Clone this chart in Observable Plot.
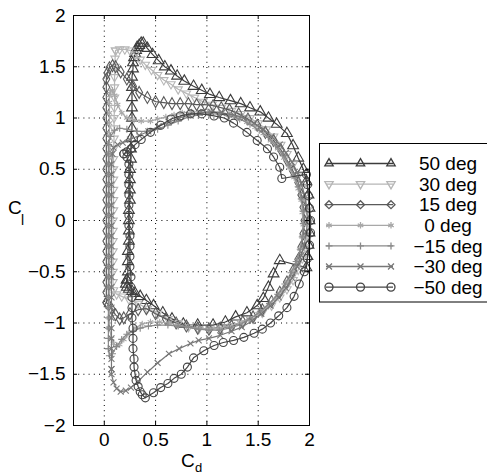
<!DOCTYPE html>
<html><head><meta charset="utf-8">
<script src="https://cdn.jsdelivr.net/npm/d3@7"></script>
<script src="https://cdn.jsdelivr.net/npm/@observablehq/plot@0.6"></script>
<style>
body{margin:0;background:#fff;}
#wrap{position:relative;width:487px;height:475px;overflow:hidden;background:#fff;font-family:"Liberation Sans",Arial,sans-serif;}
#wrap svg{position:absolute;left:0;top:0;}
</style></head><body><div id="wrap"></div>
<script>
const xTicks = [0, 0.5, 1, 1.5, 2];
const yTicks = [-2, -1.5, -1, -0.5, 0, 0.5, 1, 1.5, 2];
const seriesLabels = ["50 deg", "30 deg", "15 deg", "0 deg", "\u221215 deg", "\u221230 deg", "\u221250 deg"];

// [Cd, Cl] points
const s50 = [[0.22,-0.58],[0.23,-0.5],[0.23,-0.4],[0.23,-0.3],[0.24,-0.2],[0.24,-0.1],[0.24,0.0],[0.24,0.1],[0.25,0.2],[0.25,0.3],[0.25,0.4],[0.25,0.5],[0.26,0.6],[0.26,0.7],[0.26,0.8],[0.27,0.9],[0.27,1.0],[0.27,1.1],[0.27,1.2],[0.27,1.3],[0.27,1.4],[0.28,1.48],[0.28,1.54],[0.29,1.59],[0.3,1.63],[0.31,1.66],[0.32,1.69],[0.34,1.71],[0.36,1.73],[0.38,1.73],[0.42,1.68],[0.47,1.62],[0.53,1.56],[0.59,1.5],[0.65,1.46],[0.71,1.41],[0.78,1.36],[0.87,1.31],[0.95,1.27],[1.03,1.23],[1.12,1.2],[1.23,1.17],[1.33,1.14],[1.42,1.1],[1.52,1.06],[1.6,1.0],[1.68,0.94],[1.78,0.85],[1.84,0.73],[1.89,0.61],[1.94,0.5],[1.97,0.38],[1.99,0.25],[2.0,0.12],[2.0,0.0],[2.0,-0.12],[1.99,-0.24],[1.98,-0.35],[1.97,-0.46],[1.71,-0.39],[1.65,-0.52],[1.6,-0.65],[1.55,-0.76],[1.49,-0.83],[1.39,-0.9],[1.28,-0.94],[1.18,-0.99],[1.06,-1.02],[0.91,-1.02],[0.77,-1.01],[0.66,-0.96],[0.57,-0.9],[0.48,-0.83],[0.41,-0.78],[0.35,-0.74],[0.3,-0.71],[0.27,-0.69],[0.24,-0.67],[0.22,-0.65],[0.21,-0.62],[0.22,-0.58]];
const s30 = [[0.11,1.66],[0.15,1.67],[0.2,1.67],[0.25,1.66],[0.3,1.62],[0.35,1.57],[0.4,1.52],[0.46,1.47],[0.52,1.42],[0.58,1.37],[0.65,1.33],[0.72,1.28],[0.8,1.24],[0.88,1.2],[0.96,1.16],[1.05,1.13],[1.14,1.1],[1.24,1.07],[1.33,1.04],[1.42,1.0],[1.5,0.95],[1.58,0.89],[1.65,0.82],[1.72,0.74],[1.78,0.65],[1.84,0.55],[1.89,0.44],[1.93,0.33],[1.96,0.22],[1.98,0.1],[1.99,-0.02],[1.98,-0.14],[1.96,-0.26],[1.93,-0.37],[1.89,-0.48],[1.84,-0.58],[1.78,-0.67],[1.71,-0.75],[1.63,-0.83],[1.54,-0.9],[1.45,-0.96],[1.35,-1.0],[1.25,-1.03],[1.14,-1.05],[1.03,-1.06],[0.92,-1.06],[0.82,-1.04],[0.72,-1.0],[0.62,-0.96],[0.52,-0.91],[0.42,-0.86],[0.33,-0.81],[0.24,-0.77],[0.17,-0.74],[0.12,-0.72],[0.09,-0.68],[0.085,-0.6],[0.085,-0.5],[0.085,-0.4],[0.085,-0.3],[0.085,-0.2],[0.085,-0.1],[0.085,0.0],[0.09,0.1],[0.09,0.2],[0.09,0.3],[0.09,0.4],[0.09,0.5],[0.09,0.6],[0.09,0.7],[0.095,0.8],[0.095,0.9],[0.095,1.0],[0.1,1.1],[0.1,1.2],[0.1,1.3],[0.1,1.4],[0.105,1.5],[0.105,1.58],[0.11,1.66]];
const s15 = [[0.02,-0.8],[0.02,-0.7],[0.02,-0.6],[0.02,-0.5],[0.02,-0.4],[0.02,-0.3],[0.02,-0.2],[0.02,-0.1],[0.02,0.0],[0.02,0.1],[0.02,0.2],[0.02,0.3],[0.02,0.4],[0.02,0.5],[0.02,0.6],[0.02,0.7],[0.02,0.8],[0.02,0.9],[0.02,1.0],[0.02,1.1],[0.02,1.2],[0.02,1.3],[0.02,1.38],[0.03,1.44],[0.05,1.49],[0.08,1.51],[0.11,1.5],[0.16,1.45],[0.22,1.38],[0.28,1.31],[0.34,1.25],[0.42,1.2],[0.5,1.16],[0.58,1.15],[0.66,1.14],[0.74,1.14],[0.82,1.14],[0.9,1.13],[0.98,1.13],[1.06,1.12],[1.14,1.1],[1.22,1.08],[1.31,1.04],[1.4,0.99],[1.49,0.93],[1.57,0.86],[1.65,0.78],[1.72,0.69],[1.78,0.59],[1.84,0.48],[1.89,0.37],[1.92,0.25],[1.94,0.13],[1.95,0.0],[1.94,-0.13],[1.92,-0.26],[1.89,-0.38],[1.84,-0.49],[1.78,-0.6],[1.71,-0.7],[1.63,-0.79],[1.54,-0.87],[1.45,-0.94],[1.35,-0.99],[1.24,-1.03],[1.13,-1.05],[1.02,-1.06],[0.91,-1.05],[0.8,-1.03],[0.7,-1.0],[0.6,-0.96],[0.5,-0.91],[0.41,-0.86],[0.33,-0.87],[0.25,-0.91],[0.19,-0.95],[0.15,-0.96],[0.11,-0.92],[0.07,-0.86],[0.04,-0.82],[0.02,-0.8]];
const s0 = [[0.05,-1.05],[0.05,-0.95],[0.05,-0.85],[0.05,-0.75],[0.05,-0.65],[0.05,-0.55],[0.05,-0.45],[0.05,-0.35],[0.05,-0.25],[0.05,-0.15],[0.05,-0.05],[0.05,0.05],[0.05,0.15],[0.05,0.25],[0.05,0.35],[0.05,0.45],[0.05,0.55],[0.05,0.65],[0.05,0.75],[0.05,0.85],[0.05,0.95],[0.05,1.05],[0.05,1.15],[0.05,1.22],[0.06,1.26],[0.08,1.27],[0.1,1.22],[0.13,1.13],[0.17,1.05],[0.22,1.0],[0.29,0.98],[0.36,0.97],[0.45,0.97],[0.52,0.99],[0.6,1.01],[0.68,1.03],[0.76,1.05],[0.85,1.06],[0.94,1.06],[1.03,1.06],[1.12,1.05],[1.21,1.03],[1.3,1.0],[1.39,0.96],[1.47,0.91],[1.55,0.85],[1.62,0.78],[1.69,0.7],[1.75,0.61],[1.8,0.52],[1.85,0.42],[1.89,0.31],[1.92,0.2],[1.93,0.08],[1.94,-0.04],[1.93,-0.16],[1.91,-0.28],[1.88,-0.39],[1.84,-0.5],[1.79,-0.6],[1.73,-0.69],[1.66,-0.77],[1.58,-0.85],[1.5,-0.91],[1.41,-0.96],[1.32,-1.0],[1.22,-1.03],[1.12,-1.05],[1.02,-1.06],[0.92,-1.05],[0.82,-1.04],[0.72,-1.02],[0.63,-1.0],[0.54,-0.99],[0.45,-0.99],[0.37,-1.01],[0.3,-1.05],[0.24,-1.1],[0.19,-1.16],[0.15,-1.21],[0.12,-1.22],[0.09,-1.2],[0.07,-1.15],[0.05,-1.05]];
const sM15 = [[0.04,-1.25],[0.04,-1.15],[0.04,-1.05],[0.04,-0.95],[0.04,-0.85],[0.04,-0.75],[0.04,-0.65],[0.04,-0.55],[0.04,-0.45],[0.04,-0.35],[0.04,-0.25],[0.04,-0.15],[0.04,-0.05],[0.04,0.05],[0.04,0.15],[0.04,0.25],[0.04,0.35],[0.04,0.45],[0.04,0.55],[0.04,0.65],[0.04,0.74],[0.06,0.82],[0.1,0.88],[0.15,0.9],[0.22,0.89],[0.32,0.87],[0.42,0.87],[0.52,0.89],[0.62,0.93],[0.72,0.97],[0.82,1.01],[0.92,1.03],[1.02,1.04],[1.12,1.04],[1.22,1.02],[1.32,0.99],[1.42,0.94],[1.51,0.88],[1.6,0.81],[1.67,0.73],[1.74,0.64],[1.8,0.54],[1.85,0.44],[1.89,0.33],[1.92,0.21],[1.94,0.09],[1.94,-0.03],[1.93,-0.16],[1.91,-0.28],[1.87,-0.4],[1.82,-0.51],[1.76,-0.62],[1.69,-0.72],[1.61,-0.81],[1.52,-0.89],[1.42,-0.96],[1.32,-1.02],[1.22,-1.05],[1.12,-1.07],[1.02,-1.07],[0.92,-1.06],[0.82,-1.04],[0.72,-1.03],[0.62,-1.02],[0.52,-1.02],[0.43,-1.03],[0.35,-1.05],[0.28,-1.08],[0.22,-1.11],[0.17,-1.16],[0.12,-1.23],[0.08,-1.3],[0.05,-1.32],[0.04,-1.25]];
const sM30 = [[0.07,-1.45],[0.07,-1.35],[0.07,-1.25],[0.07,-1.15],[0.07,-1.05],[0.07,-0.95],[0.07,-0.85],[0.07,-0.75],[0.07,-0.65],[0.07,-0.55],[0.07,-0.45],[0.07,-0.35],[0.07,-0.25],[0.07,-0.15],[0.07,-0.05],[0.07,0.05],[0.07,0.15],[0.07,0.25],[0.07,0.35],[0.07,0.45],[0.07,0.55],[0.08,0.65],[0.09,0.71],[0.13,0.74],[0.18,0.76],[0.25,0.79],[0.34,0.83],[0.43,0.87],[0.53,0.92],[0.63,0.96],[0.73,1.0],[0.83,1.03],[0.93,1.05],[1.04,1.06],[1.15,1.05],[1.26,1.03],[1.36,1.0],[1.46,0.95],[1.55,0.89],[1.63,0.82],[1.71,0.74],[1.77,0.66],[1.83,0.57],[1.88,0.47],[1.92,0.36],[1.95,0.25],[1.97,0.13],[1.98,0.01],[1.97,-0.11],[1.95,-0.23],[1.92,-0.34],[1.88,-0.45],[1.83,-0.56],[1.77,-0.66],[1.7,-0.75],[1.62,-0.83],[1.53,-0.91],[1.44,-0.98],[1.34,-1.04],[1.24,-1.08],[1.13,-1.12],[1.02,-1.15],[0.92,-1.17],[0.84,-1.2],[0.73,-1.25],[0.63,-1.3],[0.52,-1.39],[0.42,-1.48],[0.33,-1.57],[0.26,-1.63],[0.21,-1.66],[0.16,-1.67],[0.12,-1.64],[0.09,-1.58],[0.07,-1.5],[0.07,-1.45]];
const sM50 = [[0.19,0.65],[0.22,0.62],[0.24,0.55],[0.24,0.45],[0.24,0.35],[0.24,0.25],[0.24,0.15],[0.24,0.05],[0.24,-0.05],[0.25,-0.15],[0.25,-0.25],[0.25,-0.35],[0.25,-0.45],[0.26,-0.55],[0.26,-0.65],[0.27,-0.75],[0.27,-0.85],[0.27,-0.95],[0.28,-1.05],[0.28,-1.15],[0.28,-1.25],[0.29,-1.35],[0.29,-1.43],[0.3,-1.5],[0.31,-1.56],[0.33,-1.62],[0.35,-1.67],[0.37,-1.7],[0.4,-1.73],[0.48,-1.68],[0.55,-1.63],[0.62,-1.59],[0.68,-1.54],[0.75,-1.5],[0.81,-1.43],[0.87,-1.34],[0.97,-1.27],[1.07,-1.22],[1.16,-1.19],[1.26,-1.17],[1.36,-1.14],[1.46,-1.1],[1.54,-1.06],[1.62,-1.0],[1.7,-0.93],[1.78,-0.85],[1.85,-0.74],[1.9,-0.62],[1.95,-0.5],[1.98,-0.37],[2.0,-0.24],[2.01,-0.12],[2.01,0.0],[2.0,0.12],[1.99,0.24],[1.98,0.35],[1.97,0.45],[1.73,0.41],[1.71,0.52],[1.65,0.62],[1.59,0.7],[1.49,0.78],[1.39,0.86],[1.26,0.95],[1.17,1.0],[1.07,1.02],[0.95,1.04],[0.84,1.04],[0.74,1.02],[0.65,0.99],[0.55,0.93],[0.45,0.86],[0.36,0.79],[0.3,0.74],[0.26,0.7],[0.22,0.67],[0.19,0.65]];

const triangleDown = {draw(ctx, size) {
  const s = Math.sqrt(size) * 0.6824, t = s / 2, u = s * Math.sqrt(3) / 2;
  ctx.moveTo(0, s); ctx.lineTo(u, -t); ctx.lineTo(-u, -t); ctx.closePath();
}};

const series = [
  {label: seriesLabels[0], data: s50, color: "#3c3c3c", symbol: "triangle", d3sym: d3.symbolTriangle2, r: 4},
  {label: seriesLabels[1], data: s30, color: "#b6b6b6", symbol: triangleDown, d3sym: triangleDown, r: 4},
  {label: seriesLabels[2], data: s15, color: "#5a5a5a", symbol: "diamond", d3sym: d3.symbolDiamond2, r: 3.6},
  {label: seriesLabels[3], data: s0, color: "#a8a8a8", symbol: "asterisk", d3sym: d3.symbolAsterisk, r: 3},
  {label: seriesLabels[4], data: sM15, color: "#8a8a8a", symbol: "plus", d3sym: d3.symbolPlus, r: 2.4},
  {label: seriesLabels[5], data: sM30, color: "#777777", symbol: "times", d3sym: d3.symbolTimes, r: 2.8},
  {label: seriesLabels[6], data: sM50, color: "#444444", symbol: "circle", d3sym: d3.symbolCircle, r: 4}
];

const fmt = d => (d < 0 ? "\u2212" + (-d) : String(d));
const W = 487, H = 475, mL = 73, mR = 178, mT = 15, mB = 50;
const frameW = W - mL - mR, frameH = H - mT - mB;

const marks = [
  Plot.gridX(xTicks, {stroke: "black", strokeOpacity: 1, strokeWidth: 1, strokeDasharray: "1,4.2"}),
  Plot.gridY(yTicks, {stroke: "black", strokeOpacity: 1, strokeWidth: 1, strokeDasharray: "1,4.2"})
];
for (const s of series) {
  marks.push(Plot.line(s.data, {x: d => d[0], y: d => d[1], stroke: s.color, strokeWidth: 1.2}));
  marks.push(Plot.dot(s.data, {x: d => d[0], y: d => d[1], symbol: s.symbol, r: s.r, stroke: s.color, fill: "none", strokeWidth: 1.1}));
}
marks.push(
  Plot.tickX(xTicks, {x: d => d, insetTop: frameH - 4, stroke: "black"}),
  Plot.tickX(xTicks, {x: d => d, insetBottom: frameH - 4, stroke: "black"}),
  Plot.tickY(yTicks, {y: d => d, insetRight: frameW - 4, stroke: "black"}),
  Plot.tickY(yTicks, {y: d => d, insetLeft: frameW - 4, stroke: "black"}),
  Plot.frame({stroke: "black", strokeWidth: 1}),
  Plot.axisX(xTicks, {tickSize: 0, tickPadding: 7, fontSize: 19, tickFormat: fmt, label: null}),
  Plot.axisY(yTicks, {tickSize: 0, tickPadding: 8, fontSize: 19, tickFormat: fmt, label: null})
);

const chart = Plot.plot({
  width: W, height: H,
  marginLeft: mL, marginRight: mR, marginTop: mT, marginBottom: mB,
  x: {domain: [-0.3, 2]},
  y: {domain: [-2, 2]},
  style: {fontFamily: '"Liberation Sans", Arial, sans-serif', fontSize: "19px", color: "black", background: "white", overflow: "visible"},
  marks
});
const wrap = document.getElementById("wrap");
wrap.appendChild(chart);

// overlay: axis titles and legend
const ov = d3.select(wrap).append("svg").attr("width", W).attr("height", H)
  .style("font-family", '"Liberation Sans", Arial, sans-serif');
ov.append("text").attr("x", 181).attr("y", 467).attr("font-size", 19).text("C");
ov.append("text").attr("x", 195).attr("y", 472).attr("font-size", 13).text("d");
ov.append("text").attr("x", 8).attr("y", 214).attr("font-size", 19).text("C");
ov.append("text").attr("x", 21).attr("y", 225).attr("font-size", 14).text("l");

const lg = ov.append("g");
lg.append("rect").attr("x", 319.5).attr("y", 143.5).attr("width", 180).attr("height", 158.5)
  .attr("fill", "white").attr("stroke", "black").attr("stroke-width", 1);
series.forEach((s, i) => {
  const y = 163.5 + i * 20.6;
  lg.append("line").attr("x1", 326).attr("x2", 393).attr("y1", y).attr("y2", y)
    .attr("stroke", s.color).attr("stroke-width", 1.3);
  for (const mx of [329, 360.5, 391]) {
    lg.append("path").attr("transform", `translate(${mx},${y})`)
      .attr("d", d3.symbol(s.d3sym, Math.PI * s.r * s.r)())
      .attr("fill", "none").attr("stroke", s.color).attr("stroke-width", 1.3);
  }
  lg.append("text").attr("x", 448).attr("y", y).attr("dy", "0.35em").attr("text-anchor", "middle")
    .attr("font-size", 19).text(s.label);
});
</script></body></html>
